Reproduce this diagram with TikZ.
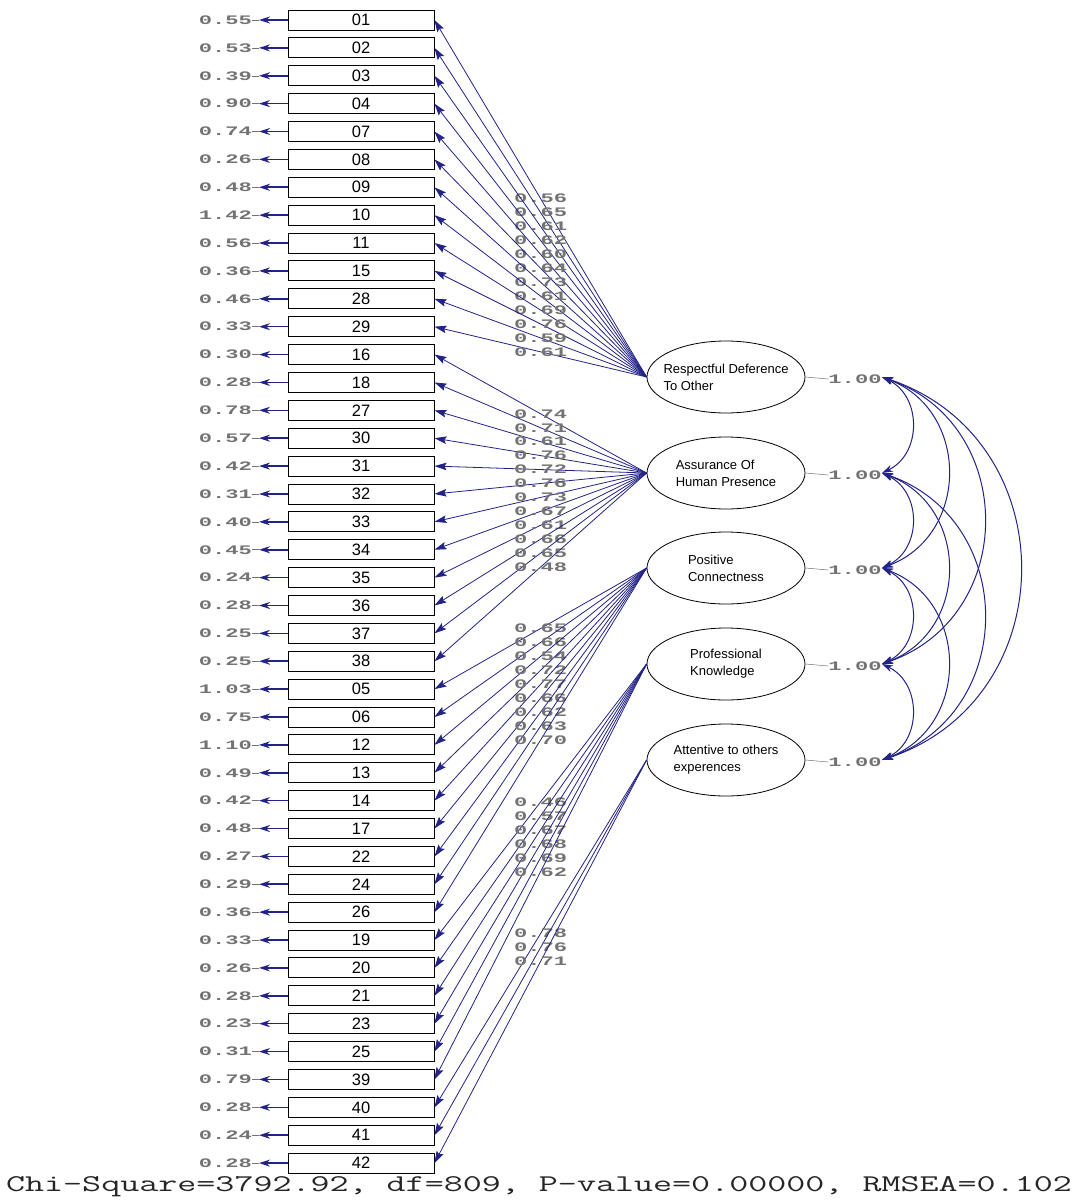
\documentclass[tikz,border=0pt]{standalone}
\usepackage{fontspec}
\setmainfont{Liberation Sans}
\newfontfamily\labfont[FakeStretch=1.7]{Liberation Mono}
\newfontfamily\chifont[FakeStretch=1.54]{Latin Modern Mono}
\usetikzlibrary{arrows.meta,shapes.geometric,calc}
\definecolor{navy}{RGB}{35,35,135}
\definecolor{labgray}{RGB}{115,115,115}
\begin{document}
\begin{tikzpicture}[x=1pt,y=-1pt,
  itembox/.style={draw=black, line width=0.9pt, minimum width=146pt, minimum height=20pt, inner sep=0pt, font=\fontsize{16.5}{16.5}\selectfont},
  latent/.style={ellipse, draw=black, line width=0.8pt, minimum width=158pt, minimum height=72pt, inner sep=0pt,
    label={[align=left, font=\fontsize{13}{17}\selectfont, inner sep=0pt]center:#1}},
  num/.style={font=\labfont\bfseries\fontsize{13}{13}\selectfont, text=labgray, inner sep=0pt},
  load/.style={draw=navy, line width=0.8pt, -{Stealth[length=12pt,width=7.5pt,inset=2pt]}},
  err/.style={draw=navy, line width=1.6pt, -{Stealth[length=11pt,width=7pt]}},
  cov/.style={draw=navy, line width=1pt, {Stealth[length=11pt,width=7pt]}-{Stealth[length=11pt,width=7pt]}},
  tickline/.style={draw=labgray, line width=0.5pt}
]
\useasboundingbox (0,0) rectangle (1085,1204);

% observed variables
\foreach \lbl [count=\k from 0] in {01,02,03,04,07,08,09,10,11,15,28,29,16,18,27,30,31,32,33,34,35,36,37,38,05,06,12,13,14,17,22,24,26,19,20,21,23,25,39,40,41,42}
  \node[itembox] (b\k) at (361,{20+\k*27.88}) {\lbl};

% error variances
\foreach \e [count=\k from 0] in {0.55,0.53,0.39,0.90,0.74,0.26,0.48,1.42,0.56,0.36,0.46,0.33,0.30,0.28,0.78,0.57,0.42,0.31,0.40,0.45,0.24,0.28,0.25,0.25,1.03,0.75,1.10,0.49,0.42,0.48,0.27,0.29,0.36,0.33,0.26,0.28,0.23,0.31,0.79,0.28,0.24,0.28}{
  \node[num, anchor=east] (e\k) at (252,{20+\k*27.88}) {\e};
  \coordinate (t\k) at (259,{20+\k*27.88});
  \draw[err] (b\k.west) -- (t\k);
  \draw[tickline] (e\k.east) -- (t\k);
}

% latent variables
\node[latent={Respectful Deference\\To Other}] (f1) at (726,377) {};
\node[latent={Assurance Of\\Human Presence}] (f2) at (726,473) {};
\node[latent={Positive\\Connectness}] (f3) at (726,568) {};
\node[latent={Professional\\Knowledge}] (f4) at (726,664) {};
\node[latent={Attentive to others\\experences}] (f5) at (726,760) {};

% loadings
\foreach \v [count=\k from 0] in {0.56,0.65,0.61,0.62,0.60,0.64,0.73,0.61,0.69,0.76,0.59,0.61}
  \draw[load] (f1.west) -- node[num]{\v} (b\k.east);
\foreach \v [count=\k from 12] in {0.74,0.71,0.61,0.76,0.72,0.76,0.73,0.67,0.61,0.66,0.65,0.48}
  \draw[load] (f2.west) -- node[num]{\v} (b\k.east);
\foreach \v [count=\k from 24] in {0.65,0.66,0.54,0.72,0.77,0.66,0.62,0.63,0.70}
  \draw[load] (f3.west) -- node[num]{\v} (b\k.east);
\foreach \v [count=\k from 33] in {0.46,0.57,0.67,0.68,0.69,0.62}
  \draw[load] (f4.west) -- node[num]{\v} (b\k.east);
\foreach \v [count=\k from 39] in {0.78,0.76,0.71}
  \draw[load] (f5.west) -- node[num]{\v} (b\k.east);

% factor variances
\foreach \i/\y in {1/377,2/473,3/568,4/664,5/760}{
  \node[num] (v\i) at (855,{\y+2}) {1.00};
  \draw[tickline] (f\i.east) -- (v\i.west);
  \coordinate (c\i) at (882,\y);
}

% covariances
\foreach \i/\j/\ox/\oy in {1/2/40/19,2/3/40/19,3/4/40/19,4/5/40/19,1/3/88/33,2/4/88/33,3/5/88/33,1/4/136/47,2/5/136/47,1/5/184/61}
  \draw[cov] (c\i) .. controls ($(c\i)+(\ox,\oy)$) and ($(c\j)+(\ox,-\oy)$) .. (c\j);

% fit statistics
\node[font=\chifont\fontsize{24}{24}\selectfont, text=black!85, inner sep=0pt] (chi) at (539,1187) {Chi-Square=3792.92, df=809, P-value=0.00000, RMSEA=0.102};
\end{tikzpicture}
\end{document}
